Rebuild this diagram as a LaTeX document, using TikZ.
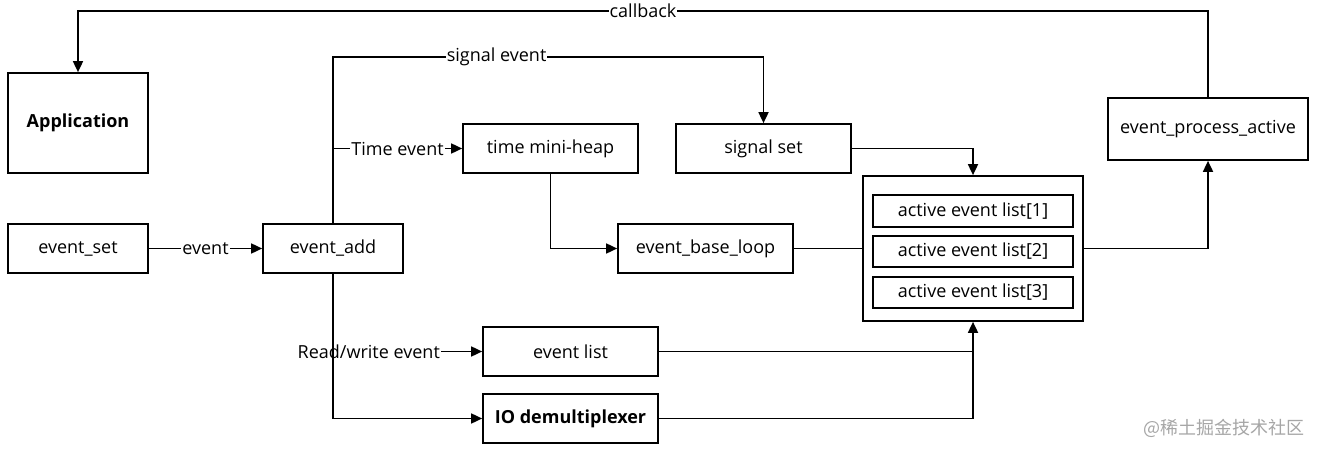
\documentclass[tikz,border=0pt]{standalone}
\usepackage{fontspec}
\setmainfont{Open Sans}
\newfontfamily\cjk{Noto Sans CJK SC}
\usetikzlibrary{arrows.meta}
\tikzset{
  box/.style={draw, line width=1.7pt, inner sep=0pt, font=\fontsize{18}{21}\selectfont},
  conn/.style={line width=1.7pt},
  arr/.style={conn, -{Triangle[length=11pt,width=10pt]}},
  lbl/.style={fill=white, inner sep=1pt, font=\fontsize{18}{21}\selectfont}
}
\begin{document}
\begin{tikzpicture}[x=1pt,y=-1pt]
\useasboundingbox (0,0) rectangle (1319,454);
\node[box, minimum width=140pt, minimum height=100pt, font=\fontsize{18}{21}\selectfont\bfseries] (app) at (78,123) {Application};
\node[box, minimum width=140pt, minimum height=49pt] (eset) at (78,248.5) {event\_set};
\node[box, minimum width=140pt, minimum height=49pt] (eadd) at (333,248.5) {event\_add};
\node[box, minimum width=175pt, minimum height=49pt] (heap) at (550.5,148.5) {time mini-heap};
\node[box, minimum width=175pt, minimum height=49pt] (sig) at (763.5,148.5) {signal set};
\node[box, minimum width=175pt, minimum height=49pt] (loop) at (705.5,248.5) {event\_base\_loop};
\node[box, minimum width=220pt, minimum height=145pt] (act) at (973,248.5) {};
\node[box, minimum width=200pt, minimum height=32pt] (a1) at (973,211) {active event list[1]};
\node[box, minimum width=200pt, minimum height=31pt] (a2) at (973,251.5) {active event list[2]};
\node[box, minimum width=200pt, minimum height=31pt] (a3) at (973,292.5) {active event list[3]};
\node[box, minimum width=200pt, minimum height=62pt] (proc) at (1208,129) {event\_process\_active};
\node[box, minimum width=175pt, minimum height=49pt] (elist) at (570.5,351.5) {event list};
\node[box, minimum width=175pt, minimum height=49pt, font=\fontsize{18}{21}\selectfont\bfseries] (io) at (570.5,418.5) {IO demultiplexer};

% callback
\coordinate (cb1) at (1208,11);
\coordinate (cb2) at (78,11);
\draw[arr] (proc.north) -- (cb1) -- node[lbl, pos=0.5] {callback} (cb2) -- (app.north);
% signal event
\coordinate (se1) at (333,57);
\coordinate (se2) at (763.5,57);
\draw[arr] (eadd.north) -- (se1) -- node[lbl, pos=0.38] {signal event} (se2) -- (sig.north);
% time event
\coordinate (te) at (333,148.5);
\draw[arr] (te) -- node[lbl, pos=0.5] {Time event} (heap.west);
% heap -> loop
\coordinate (hl) at (550.5,248.5);
\draw[arr] (heap.south) -- (hl) -- (loop.west);
% loop -> act
\draw[conn] (loop.east) -- (act.west);
% signal set -> act
\coordinate (sa) at (973,148.5);
\draw[arr] (sig.east) -- (sa) -- (act.north);
% act -> proc
\coordinate (ap) at (1208,248.5);
\draw[arr] (act.east) -- (ap) -- (proc.south);
% event
\draw[arr] (eset.east) -- node[lbl, pos=0.5] {event} (eadd.west);
% read/write
\coordinate (rw) at (333,351.5);
\draw[arr] (rw) -- node[lbl, pos=0.24] {Read/write event} (elist.west);
% event_add -> io
\coordinate (ei) at (333,418.5);
\draw[arr] (eadd.south) -- (ei) -- (io.west);
% elist/io -> act
\coordinate (ea) at (973,351.5);
\coordinate (ia) at (973,418.5);
\draw[conn] (io.east) -- (ia) -- (ea);
\draw[arr] (elist.east) -- (ea) -- (act.south);
% watermark
\node[font=\cjk\fontsize{18}{21}\selectfont, text=black!35, inner sep=0pt] (wm) at (1224,428) {@稀土掘金技术社区};
\end{tikzpicture}
\end{document}
